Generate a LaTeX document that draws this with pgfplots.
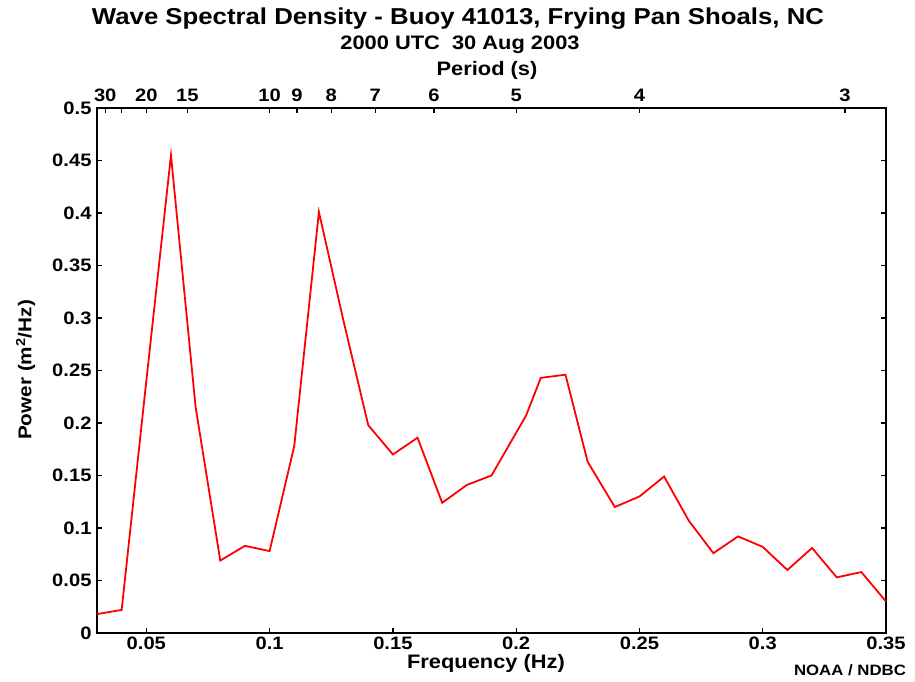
\documentclass[border=0pt]{standalone}
\usepackage{fontspec}
\setmainfont{Liberation Sans}[FakeStretch=1.12]
\usepackage{pgfplots}
\pgfplotsset{compat=1.18}
\newcommand\fs[1]{\bfseries\fontsize{#1}{#1}\selectfont}
\pgfplotstableread{
f p
0.03 0.018
0.04 0.022
0.05 0.240
0.06 0.455
0.07 0.215
0.08 0.069
0.09 0.083
0.10 0.078
0.11 0.178
0.12 0.401
0.13 0.297
0.14 0.198
0.15 0.170
0.16 0.186
0.17 0.124
0.18 0.141
0.19 0.150
0.204 0.207
0.21 0.243
0.22 0.246
0.229 0.163
0.24 0.120
0.25 0.130
0.26 0.149
0.27 0.107
0.28 0.076
0.29 0.092
0.30 0.082
0.31 0.060
0.32 0.081
0.33 0.053
0.34 0.058
0.35 0.030
}\spectrum
\begin{document}
\begin{tikzpicture}
\begin{axis}[name=main, scale only axis, width=789pt, height=525pt,
  xmin=0.03, xmax=0.35, ymin=0, ymax=0.5,
  xtick={0.05,0.1,0.15,0.2,0.25,0.3,0.35},
  ytick={0,0.05,0.1,0.15,0.2,0.25,0.3,0.35,0.4,0.45,0.5},
  tick align=inside, major tick length=5pt,
  xtick pos=bottom, ytick pos=both, yticklabel pos=left,
  axis line style={line width=1.3pt, black},
  every tick/.style={line width=1.3pt, black},
  tick label style={font=\fs{18}, black},
  /pgf/number format/assume math mode=true,
  /pgf/number format/fixed,
  yticklabel style={xshift=-2pt},
  clip=false]
\addplot[red, line width=1.8pt] table[x=f, y=p] {\spectrum};
\end{axis}
\begin{axis}[scale only axis, width=789pt, height=525pt,
  at={(main.south west)}, anchor=south west,
  xmin=0.03, xmax=0.35, ymin=0, ymax=0.5,
  axis x line*=top, axis y line=none,
  xtick={0.0333333,0.04,0.05,0.0666667,0.1,0.1111111,0.125,0.1428571,0.1666667,0.2,0.25,0.3333333},
  xticklabels={30,,20,15,10,9,8,7,6,5,4,3},
  tick align=inside, major tick length=5pt,
  axis line style={line width=1.3pt, black, -},
  every tick/.style={line width=1.3pt, black},
  tick label style={font=\fs{18}, black},
  xticklabel style={yshift=3pt}]
\end{axis}
\coordinate (O) at ([xshift=-97pt, yshift=-49pt]main.south west);
\node[anchor=base, font=\fs{23}] at ([xshift=458pt, yshift=657pt]O) {Wave Spectral Density - Buoy 41013, Frying Pan Shoals, NC};
\node[anchor=base, font=\fs{19.5}] at ([xshift=460pt, yshift=632pt]O) {2000 UTC\ \ 30 Aug 2003};
\node[anchor=base, font=\fs{19.5}] at ([xshift=487pt, yshift=606.5pt]O) {Period (s)};
\node[anchor=base, font=\fs{19.5}] at ([xshift=486pt, yshift=13pt]O) {Frequency (Hz)};
\node[anchor=base, font=\fs{15}] at ([xshift=850pt, yshift=6pt]O) {NOAA / NDBC};
\node[anchor=base, rotate=90, font=\fs{18.5}] at ([xshift=31.5pt, yshift=312pt]O) {Power (m\textsuperscript{2}/Hz)};
\pgfresetboundingbox
\path[use as bounding box] (O) rectangle ([xshift=915pt, yshift=682pt]O);
\end{tikzpicture}
\end{document}
